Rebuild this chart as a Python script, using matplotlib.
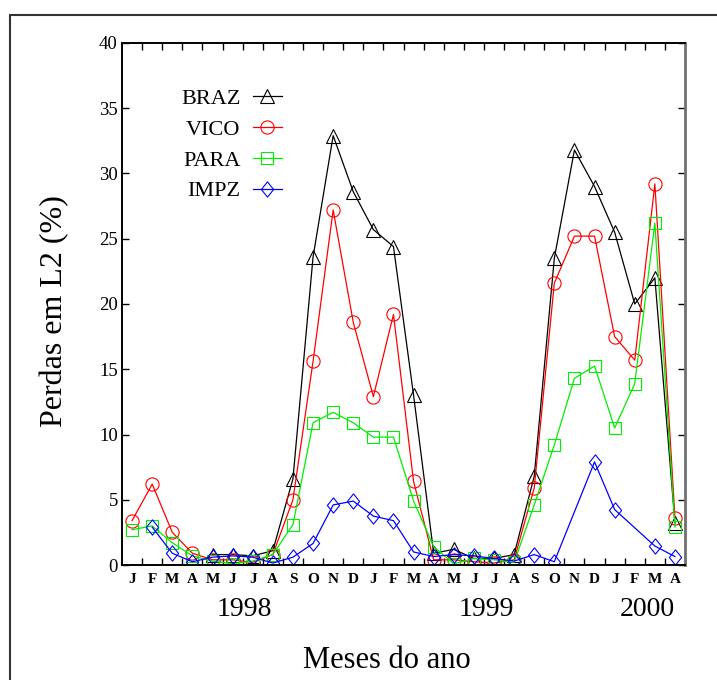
import numpy as np
import matplotlib
matplotlib.use("Agg")
import matplotlib.pyplot as plt
from matplotlib.patches import Rectangle
from matplotlib.path import Path

nan = np.nan
months = ["J", "F", "M", "A", "M", "J", "J", "A", "S", "O", "N", "D",
          "J", "F", "M", "A", "M", "J", "J", "A", "S", "O", "N", "D",
          "J", "F", "M", "A"]
years = ["1998", "1999", "2000"]
year_pos = [5.6, 17.6, 25.6]

braz = [nan, nan, nan, nan, 0.8, 0.8, 0.7, 1.1, 6.6, 23.6, 32.9, 28.6, 25.7, 24.4,
        13.0, 0.9, 1.2, 0.5, 0.5, 0.8, 6.8, 23.5, 31.8, 29.0, 25.5, 20.0, 22.0, 3.2]
vico = [3.4, 6.2, 2.5, 0.9, 0.4, 0.4, 0.2, 0.8, 5.0, 15.6, 27.2, 18.6, 12.9, 19.2,
        6.4, 0.4, 0.4, 0.25, 0.15, 0.4, 5.9, 21.6, 25.2, 25.2, 17.5, 15.7, 29.2, 3.6]
para = [2.7, 3.0, 1.7, 0.7, 0.3, 0.1, 0.3, 0.8, 3.1, 10.9, 11.7, 10.9, 9.8, 9.8,
        4.9, 1.4, 0.1, 0.5, 0.4, 0.2, 4.6, 9.2, 14.3, 15.25, 10.5, 13.9, 26.2, 2.9]
impz = [nan, 2.9, 0.9, 0.25, 0.6, 0.7, 0.6, 0.15, 0.6, 1.65, 4.6, 4.9, 3.75, 3.4,
        1.0, 0.65, 0.8, 0.7, 0.5, 0.3, 0.8, 0.25, nan, 7.9, 4.25, nan, 1.45, 0.65]

plt.rcParams['font.family'] = ['Liberation Serif', 'DejaVu Serif']

fig = plt.figure(figsize=(7.17, 6.8), dpi=100)
ax = fig.add_axes([0.1702, 0.1691, 0.7852, 0.7677])

diamond = Path([(0, 1), (0.8, 0), (0, -1), (-0.8, 0), (0, 1)],
               [Path.MOVETO, Path.LINETO, Path.LINETO, Path.LINETO, Path.CLOSEPOLY])

x = np.arange(len(months))
series = [("BRAZ", braz, "black", "^", 10),
          ("VICO", vico, "#ff0000", "o", 9.5),
          ("PARA", para, "#00ee00", "s", 8.5),
          ("IMPZ", impz, "#0000ff", diamond, 11)]
for name, vals, col, mk, ms in series:
    v = np.array(vals, dtype=float)
    ok = ~np.isnan(v)
    ax.plot(x[ok], v[ok], color=col, lw=0.9, marker=mk, ms=ms,
            mfc="none", mec=col, mew=0.8, label=name)

ax.set_xlim(-0.5, 27.5)
ax.set_ylim(0, 40)
ax.set_yticks(np.arange(0, 41, 5))
ax.set_xticks(np.arange(0.5, 27, 1))
ax.set_xticklabels([])
ax.set_xticks(x, minor=True)
ax.set_xticklabels(months, minor=True, fontsize=11, fontweight="bold")
ax.tick_params(axis="x", which="major", direction="in", top=True, length=5, width=1)
ax.tick_params(axis="x", which="minor", length=0, pad=6)
ax.tick_params(axis="y", direction="in", right=True, length=5, width=1,
               labelsize=13.5, pad=3)

for s in ["left", "bottom", "top"]:
    ax.spines[s].set_linewidth(1.4)
    ax.spines[s].set_color("black")
ax.spines["right"].set_linewidth(2)
ax.spines["right"].set_color("#707070")

trans = ax.get_xaxis_transform()
for yr, xp in zip(years, year_pos):
    ax.text(xp, -0.086, yr, transform=trans, ha="center", va="center", fontsize=20)

fig.text(0.54, 1 - 660 / 680, "Meses do ano", ha="center", va="center", fontsize=22)
fig.text(55 / 717, 1 - 311 / 680, "Perdas em L2 (%)", rotation=90,
         ha="center", va="center", fontsize=23)

ax.legend(loc="upper left", bbox_to_anchor=(0.105, 0.913), frameon=False,
          markerfirst=False, fontsize=16, handlelength=1.3, handletextpad=0.55,
          labelspacing=0.46, borderpad=0, borderaxespad=0)

fig.patches.append(Rectangle((10 / 717, -0.2), 1.2, 1.2 - 15 / 680,
                             transform=fig.transFigure, fill=False,
                             edgecolor="#333333", lw=1.5))

fig.savefig("out.png", dpi=100)
